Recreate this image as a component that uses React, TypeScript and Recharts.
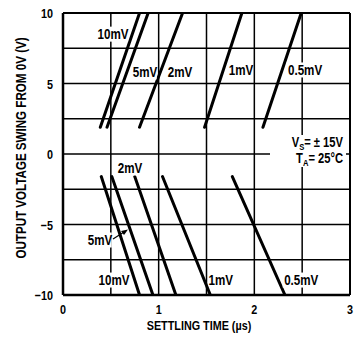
import { LineChart, Line, XAxis, YAxis, ReferenceLine, ReferenceDot, Label } from 'recharts'

const xTicks = [0, 1, 2, 3]
const yTicks = [-10, -5, 0, 5, 10]
const gridX = [0.5, 1, 1.5, 2, 2.5]
const gridY = [-7.5, -5, -2.5, 0, 2.5, 5, 7.5]

// positive output swing, settling to the given error band
const pos10mV = [{ x: 0.39, y: 1.9 }, { x: 0.8, y: 10 }]
const pos5mV = [{ x: 0.46, y: 1.9 }, { x: 0.89, y: 10 }]
const pos2mV = [{ x: 0.8, y: 1.9 }, { x: 1.25, y: 10 }]
const pos1mV = [{ x: 1.48, y: 1.9 }, { x: 1.87, y: 10 }]
const pos05mV = [{ x: 2.09, y: 1.9 }, { x: 2.49, y: 10 }]

// negative output swing
const neg10mV = [{ x: 0.4, y: -1.6 }, { x: 0.8, y: -10 }]
const neg5mV = [{ x: 0.51, y: -1.6 }, { x: 0.94, y: -10 }]
const neg2mV = [{ x: 0.75, y: -1.6 }, { x: 1.18, y: -10 }]
const neg1mV = [{ x: 1.04, y: -1.6 }, { x: 1.54, y: -10 }]
const neg05mV = [{ x: 1.77, y: -1.6 }, { x: 2.32, y: -10 }]

const curves = [pos10mV, pos5mV, pos2mV, pos1mV, pos05mV, neg10mV, neg5mV, neg2mV, neg1mV, neg05mV]

const FONT = "'Liberation Sans', Arial, sans-serif"
const SQ = 0.8 // condensed look of the datasheet font

const fmt = (v: number) => (v < 0 ? '\u2212' + Math.abs(v) : String(v))

// narrow text: drawn at (x, y) and squeezed horizontally
const NT = ({ x, y, anchor = 'middle', rotate = 0, size = 14.5, children }: any) => (
  <text
    transform={`translate(${x} ${y}) rotate(${rotate}) scale(${SQ} 1)`}
    textAnchor={anchor}
    fontFamily={FONT}
    fontSize={size}
    fontWeight="bold"
    fill="#000"
  >
    {children}
  </text>
)

const XTick = ({ x, y, payload }: any) => (
  <NT x={x} y={y + 11} size={13.5}>
    {fmt(payload.value)}
  </NT>
)

const YTick = ({ x, y, payload }: any) => (
  <NT x={x - 2} y={y + 5} anchor="end" size={13.5}>
    {fmt(payload.value)}
  </NT>
)

const Tag = ({ cx, cy, text, arrow }: any) => {
  const w = text.length * 6.8 + 3
  return (
    <g>
      <rect x={cx - w / 2} y={cy - 7.5} width={w} height={15} fill="#fff" />
      <NT x={cx} y={cy + 5}>{text}</NT>
      {arrow && (
        <g>
          <line x1={cx + 13} y1={cy - 1} x2={cx + 24} y2={cy - 8} stroke="#000" strokeWidth={1.2} />
          <polygon points={`${cx + 28},${cy - 10.5} ${cx + 21},${cy - 9} ${cx + 24},${cy - 5}`} fill="#000" />
        </g>
      )}
    </g>
  )
}

const Conditions = ({ cx, cy }: any) => (
  <g>
    <rect x={cx - 80} y={cy - 19} width={76} height={32} fill="#fff" />
    <NT x={cx - 7} y={cy - 7} anchor="end" size={14}>
      V<tspan fontSize={9.5} dy={2.5}>S</tspan>
      <tspan dy={-2.5}>{'= \u00b1 15V'}</tspan>
    </NT>
    <NT x={cx - 7} y={cy + 9} anchor="end" size={14}>
      T<tspan fontSize={9.5} dy={2.5}>A</tspan>
      <tspan dy={-2.5}>{'= 25\u00b0C'}</tspan>
    </NT>
  </g>
)

export default function App() {
  return (
    <div style={{ position: 'absolute', left: 0, top: 0, width: 357, height: 339, background: '#fff' }}>
      <LineChart width={357} height={339} margin={{ top: 13, right: 7, left: 0, bottom: 0 }}>
        <XAxis
          type="number"
          dataKey="x"
          domain={[0, 3]}
          ticks={xTicks}
          allowDataOverflow
          height={44}
          tickLine={false}
          axisLine={false}
          tick={<XTick />}
        >
          <Label
            content={() => (
              <NT x={199} y={330} size={13.5}>
                SETTLING TIME (µs)
              </NT>
            )}
          />
        </XAxis>
        <YAxis
          type="number"
          dataKey="y"
          domain={[-10, 10]}
          ticks={yTicks}
          allowDataOverflow
          width={63}
          tickLine={false}
          axisLine={false}
          tick={<YTick />}
        >
          <Label
            content={() => (
              <NT x={26} y={148} rotate={-90} size={14.5}>
                OUTPUT VOLTAGE SWING FROM 0V (V)
              </NT>
            )}
          />
        </YAxis>
        {gridX.map((v) => (
          <ReferenceLine key={'gx' + v} x={v} stroke="#000" strokeWidth={1.5} />
        ))}
        {gridY.map((v) => (
          <ReferenceLine key={'gy' + v} y={v} stroke="#000" strokeWidth={1.5} />
        ))}
        <ReferenceLine x={0} stroke="#000" strokeWidth={2.5} />
        <ReferenceLine x={3} stroke="#000" strokeWidth={2} />
        <ReferenceLine y={10} stroke="#000" strokeWidth={2} />
        <ReferenceLine y={-10} stroke="#000" strokeWidth={2.5} />

        <ReferenceDot x={0.523} y={8.5} r={0} shape={(p: any) => <Tag {...p} text="10mV" />} />
        <ReferenceDot x={0.857} y={5.82} r={0} shape={(p: any) => <Tag {...p} text="5mV" />} />
        <ReferenceDot x={1.223} y={5.82} r={0} shape={(p: any) => <Tag {...p} text="2mV" />} />
        <ReferenceDot x={1.861} y={5.96} r={0} shape={(p: any) => <Tag {...p} text="1mV" />} />
        <ReferenceDot x={2.53} y={5.96} r={0} shape={(p: any) => <Tag {...p} text="0.5mV" />} />
        <ReferenceDot x={0.7} y={-0.99} r={0} shape={(p: any) => <Tag {...p} text="2mV" />} />
        <ReferenceDot x={0.387} y={-6.1} r={0} shape={(p: any) => <Tag {...p} text="5mV" arrow />} />
        <ReferenceDot x={0.533} y={-8.94} r={0} shape={(p: any) => <Tag {...p} text="10mV" />} />
        <ReferenceDot x={1.65} y={-8.94} r={0} shape={(p: any) => <Tag {...p} text="1mV" />} />
        <ReferenceDot x={2.49} y={-8.94} r={0} shape={(p: any) => <Tag {...p} text="0.5mV" />} />
        <ReferenceDot x={3} y={0} r={0} shape={(p: any) => <Conditions {...p} />} />

        {curves.map((d, i) => (
          <Line
            key={i}
            data={d}
            dataKey="y"
            type="linear"
            stroke="#000"
            strokeWidth={3}
            strokeLinecap="round"
            dot={false}
            activeDot={false}
            legendType="none"
            isAnimationActive={false}
          />
        ))}
      </LineChart>
    </div>
  )
}
